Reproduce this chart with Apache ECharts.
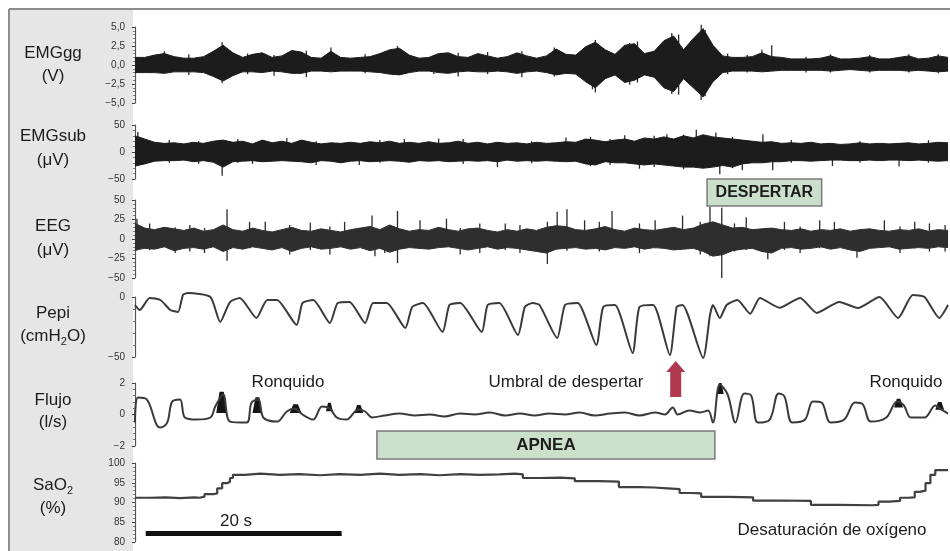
<!DOCTYPE html>
<html>
<head>
<meta charset="utf-8">
<script src="https://cdn.jsdelivr.net/npm/echarts@6/dist/echarts.min.js"></script>
<style>
  html, body { margin: 0; padding: 0; background: #fff; }
  #chart { width: 950px; height: 551px; }
</style>
</head>
<body>
<div id="chart"></div>
<script>
// envelopes sampled once per second (t = 0..83 s)
const emgggUp = [1.0, 1.0, 1.3, 1.5, 1.1, 0.9, 0.9, 1.1, 1.8, 2.6,
  1.6, 1.0, 1.4, 1.6, 1.0, 1.2, 1.9, 1.7, 1.0, 0.9,
  1.8, 1.0, 0.9, 1.0, 1.1, 1.5, 2.0, 2.2, 1.3, 0.9,
  1.0, 1.5, 1.6, 1.1, 1.0, 1.5, 1.2, 0.9, 1.1, 1.6,
  1.2, 0.9, 1.2, 2.1, 1.4, 1.3, 2.4, 3.0, 2.0, 1.4,
  2.6, 2.8, 1.5, 1.8, 3.2, 3.8, 2.0, 3.5, 4.8, 2.6,
  1.2, 1.0, 1.0, 1.1, 1.6, 1.1, 1.0, 0.8, 0.8, 0.8,
  0.9, 1.2, 0.8, 0.8, 0.9, 1.1, 0.8, 0.8, 1.0, 1.2,
  0.8, 0.9, 1.2, 1.0];
const emgggLo = [-1.0, -1.0, -1.0, -1.1, -0.9, -0.9, -0.9, -1.0, -1.5, -2.1,
  -1.4, -0.9, -0.9, -1.0, -0.8, -0.9, -1.1, -1.1, -0.8, -0.8,
  -0.9, -0.8, -0.8, -0.8, -0.9, -1.0, -1.2, -1.3, -1.0, -0.8,
  -0.8, -1.0, -1.1, -0.9, -0.8, -0.9, -0.9, -0.8, -0.9, -1.1,
  -0.9, -0.8, -1.0, -1.3, -1.1, -1.2, -2.2, -3.0, -1.8, -1.3,
  -2.3, -2.0, -1.3, -1.6, -3.0, -3.5, -1.8, -3.0, -4.2, -2.2,
  -1.0, -0.8, -0.8, -0.8, -0.9, -0.8, -0.7, -0.7, -0.7, -0.7,
  -0.7, -0.8, -0.7, -0.6, -0.7, -0.8, -0.7, -0.7, -0.7, -0.8,
  -0.7, -0.8, -0.9, -0.8];
// [time s, low, high]
const emgggSpikes = [[3.0, -0.6, 1.8], [5.5, -1.3, 1.4], [8.9, -2.4, 3.0], [11.5, -1.2, 1.5],
  [14.2, -1.4, 1.3], [17.5, -1.6, 1.9], [20.0, -0.5, 2.3], [23.5, -1.1, 1.4], [26.8, -1.2, 2.5],
  [30.5, -1.2, 1.3], [33.0, -1.5, 1.6], [36.0, -1.2, 1.7], [39.5, -1.6, 1.8], [42.8, -1.5, 2.3],
  [46.7, -3.2, 2.6], [47.0, -3.6, 3.3], [50.5, -2.6, 2.9], [51.3, -2.3, 3.1], [54.8, -3.8, 4.2],
  [55.5, -3.9, 4.0], [57.8, -4.6, 5.3], [58.2, -4.1, 4.6], [60.5, -1.2, 1.5], [62.5, -1.0, 1.3],
  [64.0, -0.4, 2.0], [65.0, -0.3, 2.6], [68.5, -1.0, 1.1], [71.0, -1.0, 1.4], [75.0, -1.0, 1.3],
  [79.0, -1.0, 1.4], [82.0, -1.1, 1.4]];

const emgsubUp = [30, 24, 18, 16, 17, 15, 18, 16, 20, 22,
  18, 20, 15, 22, 17, 20, 16, 22, 18, 15,
  17, 16, 18, 16, 19, 17, 20, 16, 18, 16,
  19, 16, 17, 20, 16, 18, 15, 18, 16, 17,
  15, 18, 16, 17, 19, 18, 24, 22, 19, 22,
  24, 20, 26, 24, 28, 24, 30, 26, 32, 28,
  26, 24, 22, 20, 18, 19, 16, 17, 16, 18,
  15, 16, 14, 15, 17, 15, 16, 15, 16, 17,
  15, 16, 18, 17];
const emgsubLo = [-26, -22, -17, -16, -16, -15, -18, -16, -19, -28,
  -18, -17, -16, -18, -17, -16, -17, -18, -20, -16,
  -17, -20, -17, -16, -18, -17, -16, -17, -19, -16,
  -17, -16, -18, -17, -16, -17, -16, -18, -15, -17,
  -16, -17, -16, -17, -18, -17, -22, -24, -18, -20,
  -20, -22, -24, -22, -24, -26, -28, -28, -30, -28,
  -25, -28, -22, -20, -20, -18, -18, -16, -16, -17,
  -16, -15, -15, -16, -16, -15, -16, -15, -15, -16,
  -15, -16, -17, -16];
const emgsubSpikes = [[0.3, -20, 37], [3.5, -20, 22], [6.5, -22, 20], [8.9, -44, 12], [10.5, -20, 24],
  [12.0, -22, 6], [15.5, -12, 26], [18.5, -24, 20], [22.9, -24, 5], [25.0, -20, 22], [27.5, -8, 24],
  [31.0, -5, 25], [33.5, -22, 24], [37.0, -28, 6], [40.5, -21, 20], [44.0, -6, 27], [46.5, -26, 28],
  [48.5, -24, 24], [50.0, -6, 31], [51.5, -31, 8], [53.0, -28, 30], [54.3, -10, 33], [56.0, -32, 32],
  [57.3, -12, 41], [59.3, -8, 36], [59.7, -41, 6], [61.0, -30, 28], [62.0, -34, 10], [64.1, -8, 33],
  [65.1, -34, 6], [67.0, -20, 22], [71.2, -26, 4], [74.0, -20, 20], [78.0, -27, 4], [81.0, -20, 22]];

const eegUp = [20, 14, 12, 15, 13, 11, 14, 10, 12, 18,
  12, 10, 14, 11, 9, 12, 15, 11, 10, 13,
  11, 9, 12, 14, 16, 12, 18, 13, 10, 12,
  11, 15, 12, 10, 13, 14, 11, 9, 12, 10,
  13, 11, 15, 17, 16, 12, 11, 13, 16, 12,
  10, 14, 12, 11, 13, 15, 12, 14, 19, 22,
  18, 14, 15, 12, 13, 14, 12, 11, 13, 10,
  12, 11, 13, 10, 12, 13, 11, 10, 12, 11,
  13, 10, 12, 11];
const eegLo = [-14, -12, -13, -10, -15, -12, -11, -13, -10, -16,
  -11, -13, -10, -12, -14, -11, -16, -12, -10, -13,
  -12, -10, -13, -11, -15, -12, -17, -13, -11, -12,
  -13, -11, -10, -12, -14, -12, -10, -13, -11, -12,
  -14, -16, -18, -13, -12, -11, -13, -12, -14, -11,
  -12, -10, -13, -11, -12, -14, -13, -12, -16, -22,
  -20, -15, -13, -12, -16, -18, -12, -11, -13, -12,
  -10, -13, -11, -14, -16, -12, -11, -10, -13, -12,
  -11, -12, -10, -11];
const eegSpikes = [[0.2, -15, 26], [1.5, -14, 20], [4.1, -18, 15], [5.6, -16, 18], [7.1, -18, 14],
  [9.4, -28, 38], [11.7, -12, 22], [13.3, -10, 22], [15.8, -20, 18], [17.9, -14, 21],
  [19.9, -20, 16], [21.4, -10, 22], [24.2, -8, 30], [24.5, -22, 5], [25.5, -18, 12],
  [26.8, -31, 36], [29.1, -12, 24], [31.8, -10, 26], [33.2, -20, 14], [35.2, -18, 20],
  [37.8, -14, 20], [39.3, -18, 18], [42.1, -32, 22], [43.1, -10, 35], [44.1, -15, 38],
  [45.9, -12, 24], [47.4, -16, 22], [48.7, -8, 36], [51.5, -18, 20], [53.1, -12, 24],
  [55.9, -12, 30], [57.7, -20, 22], [58.7, -22, 41], [59.9, -50, 40], [61.2, -16, 20],
  [62.4, -14, 28], [64.6, -26, 12], [66.3, -14, 22], [67.9, -18, 16], [69.9, -12, 24],
  [71.4, -12, 22], [73.7, -24, 10], [76.5, -10, 24], [78.1, -18, 16], [79.6, -12, 22],
  [81.1, -16, 20], [82.7, -16, 18]];

// [time s, value]
const pepi = [[0, -6.7], [0.5, -10.8], [1.5, -0.8], [2.6, -2.5], [3.6, -10.8], [4.4, -12.5], [4.9, 1.7],
  [5.4, 3.3], [7.7, 0], [8.7, -20.8], [9.7, -4.2], [10.7, -0.8], [12.4, -17.5], [13.5, -2.5],
  [14.5, -2.5], [16.5, -23.3], [17.1, -5], [18.2, -2.5], [19.9, -21.7], [20.7, -5], [21.9, -4.2],
  [23.5, -21.7], [24.3, -5], [25.7, -5], [27.6, -25.8], [28.3, -8.3], [29.4, -5], [31.4, -29.2],
  [32.1, -6.7], [33.2, -5], [35.4, -29.2], [36.0, -6.7], [37.2, -5], [39.1, -31.7], [39.8, -8.3],
  [40.6, -5], [41.3, -6.7], [43.1, -34.2], [43.9, -6.7], [45.2, -5], [47.1, -40], [47.8, -8.3],
  [49.0, -6.7], [50.8, -46.7], [51.5, -8.3], [52.9, -6.7], [54.6, -48.3], [55.3, -8.3], [55.9, -6.7],
  [58.0, -50.8], [58.7, -15], [59.0, -6.7], [59.7, -17.5], [60.4, -6.7], [61.5, -2.5], [62.8, -14],
  [63.8, -0.8], [65.8, -9], [67.9, -0.8], [69.6, -13.3], [71.9, -4.2], [73.8, -9.2], [76.0, 0],
  [77.9, -17.5], [79.4, 1.7], [80.6, 0], [82.1, -17.5], [83.0, -6.7]];

const flujo = [[0, -0.5], [0.3, 1.08], [1.2, 0.96], [2.2, -0.64], [2.6, -0.83], [3.3, -0.5], [3.8, 0.83],
  [4.6, 0.96], [5.1, -0.19], [6.3, -0.32], [7.7, -0.19], [8.2, 0.51], [9.0, 1.27], [9.7, -0.45],
  [11.4, -0.51], [11.9, 0.76], [12.6, 0.96], [13.1, -0.19], [14.5, -0.45], [15.5, 0.19], [16.3, 0.38],
  [17.1, 0], [18.2, -0.32], [19.1, 0.51], [19.9, 0.38], [20.6, -0.19], [21.6, -0.32], [22.8, 0.32],
  [23.5, 0.19], [24.2, -0.19], [25.5, -0.06], [27.0, 0.06], [28.6, -0.06], [30.1, 0], [31.6, -0.13],
  [33.2, 0.06], [34.7, 0], [36.2, 0.13], [37.8, -0.06], [39.3, 0.06], [40.8, -0.06], [42.3, 0.06],
  [43.9, 0], [45.4, 0.13], [46.9, -0.06], [48.5, 0.06], [50.0, 0.13], [51.5, -0.06], [53.1, 0.13],
  [54.1, 0], [54.9, 0.45], [55.4, 0], [56.6, 0.25], [57.7, 0.13], [58.5, 0.25], [59.0, -0.51],
  [59.7, 1.91], [60.5, 1.27], [61.3, -0.51], [62.2, 1.34], [62.9, 1.21], [63.6, -0.51], [64.8, -0.32],
  [65.7, 1.34], [66.3, 1.15], [67.1, -0.51], [68.4, -0.32], [69.2, 0.83], [70.1, 0.76], [71.0, -0.51],
  [72.4, -0.32], [73.5, 0.76], [74.3, 0.64], [75.1, -0.45], [76.7, -0.19], [77.8, 0.83], [78.5, 0.57],
  [79.2, -0.19], [80.6, -0.19], [81.7, 0.57], [82.3, 0.32], [83.0, 0.06]];
// snoring bursts: [start s, end s, low, high]
const ronquidos = [[8.3, 9.4, 0.1, 1.45], [12.0, 13.0, 0.1, 1.1], [15.8, 17.0, 0.1, 0.65],
  [19.5, 20.2, 0.2, 0.75], [22.4, 23.3, 0.1, 0.6], [59.4, 60.1, 1.3, 2.0],
  [77.5, 78.4, 0.45, 1.0], [81.7, 82.6, 0.3, 0.8]];

const sao2 = [[0, 91.2], [1.5, 91.3], [3.1, 91.1], [4.6, 91.3], [6.1, 91.2], [6.6, 91.5], [7.1, 92.1],
  [8.0, 92.3], [8.4, 93.6], [8.9, 94.9], [9.4, 95.2], [9.7, 96.2], [10.0, 97.0], [11.2, 97.3],
  [12.8, 97.0], [14.8, 97.2], [16.8, 96.9], [18.9, 97.2], [20.9, 97.0], [23.0, 97.3], [25.0, 97.0],
  [27.0, 97.2], [29.1, 96.9], [31.1, 97.2], [33.2, 97.0], [35.2, 97.1], [37.2, 97.3], [38.8, 97.1],
  [39.6, 96.2], [41.3, 96.3], [43.4, 96.1], [44.9, 95.4], [47.4, 95.3], [49.4, 93.9], [51.5, 93.8],
  [53.0, 93.6], [54.4, 93.4], [55.6, 92.4], [56.8, 92.3], [57.8, 91.4], [60.7, 91.3], [63.1, 90.5],
  [65.8, 90.4], [69.0, 89.4], [71.9, 89.3], [75.3, 89.4], [75.9, 90.2], [77.0, 90.4], [78.1, 91.2],
  [78.9, 91.3], [79.6, 92.7], [80.1, 93.0], [80.7, 94.9], [81.2, 97.0], [81.7, 98.2], [83.0, 98.3]];

// annotation spans in seconds
const apnea = [24.7, 59.2];
const despertar = [58.4, 70.1];
const escala = [1.1, 21.1];
const umbralT = 55.2;

const seconds = emgggUp.map((_, i) => i);
const font = "'Liberation Sans', Arial, Helvetica, sans-serif";
const ink = '#1c1c1c';

const grids = [
  { top: 27, height: 76 },
  { top: 125, height: 54 },
  { top: 200, height: 78 },
  { top: 297, height: 60 },
  { top: 383, height: 63 },
  { top: 463, height: 79 }
];
const yRanges = [
  { min: -5, max: 5, interval: 2.5 },
  { min: -50, max: 50, interval: 50 },
  { min: -50, max: 50, interval: 25 },
  { min: -50, max: 0, interval: 50 },
  { min: -2, max: 2, interval: 2 },
  { min: 80, max: 100, interval: 5 }
];

function fmt(v, i) {
  let s = i === 0 ? v.toFixed(1).replace('.', ',') : String(v);
  return s.replace('-', '\u2212');
}

function spikeItem(params, api) {
  const a = api.coord([api.value(0), api.value(1)]);
  const b = api.coord([api.value(0), api.value(2)]);
  return { type: 'line', shape: { x1: a[0], y1: a[1], x2: b[0], y2: b[1] },
    style: { stroke: '#2a2a2a', lineWidth: 1.3 } };
}
function blobItem(params, api) {
  const t0 = api.value(0), t1 = api.value(1), lo = api.value(2), hi = api.value(3);
  const w = (t1 - t0) * 0.3;
  const pts = [[t0, lo], [t0 + w, hi], [t1 - w, hi], [t1, lo]].map(p => api.coord(p));
  return { type: 'polygon', shape: { points: pts }, style: { fill: '#151515' } };
}

function band(up, lo, idx, color) {
  return [up, lo].map(arr => ({
    type: 'line', xAxisIndex: idx, yAxisIndex: idx, symbol: 'none', silent: true,
    data: seconds.map((t, i) => [t, arr[i]]),
    lineStyle: { color: color, width: 1 },
    areaStyle: { color: color, opacity: 1 }
  }));
}
function spikes(list, idx) {
  return { type: 'custom', xAxisIndex: idx, yAxisIndex: idx, renderItem: spikeItem,
    encode: { x: 0, y: [1, 2] }, data: list, silent: true };
}

const option = {
  animation: false,
  grid: grids.map(g => ({ left: 133, right: 0, top: g.top, height: g.height })),
  xAxis: grids.map((g, i) => ({ type: 'value', gridIndex: i, min: -0.2, max: 83.2, show: false })),
  yAxis: yRanges.map((r, i) => ({
    type: 'value', gridIndex: i, min: r.min, max: r.max, interval: r.interval,
    axisLine: { show: true, lineStyle: { color: '#555', width: 1.2 } },
    axisTick: { show: true, length: 3, lineStyle: { color: '#444' } },
    minorTick: { show: true, length: 2, splitNumber: 5, lineStyle: { color: '#777' } },
    splitLine: { show: false },
    axisLabel: { fontSize: 10, color: '#333', margin: 8, fontFamily: font,
      formatter: v => fmt(v, i) }
  })),
  series: [
    ...band(emgggUp, emgggLo, 0, ink),
    spikes(emgggSpikes, 0),
    ...band(emgsubUp, emgsubLo, 1, ink),
    spikes(emgsubSpikes, 1),
    ...band(eegUp, eegLo, 2, '#2e2e2e'),
    spikes(eegSpikes, 2),
    { type: 'line', xAxisIndex: 3, yAxisIndex: 3, data: pepi, symbol: 'none', smooth: 0.2,
      clip: false, lineStyle: { color: '#3a3a3a', width: 2 } },
    { type: 'line', xAxisIndex: 4, yAxisIndex: 4, data: flujo, symbol: 'none', smooth: 0.35,
      lineStyle: { color: '#3a3a3a', width: 2 } },
    { type: 'custom', xAxisIndex: 4, yAxisIndex: 4, renderItem: blobItem,
      encode: { x: [0, 1], y: [2, 3] }, data: ronquidos, silent: true },
    { type: 'line', xAxisIndex: 5, yAxisIndex: 5, data: sao2, symbol: 'none', step: 'end',
      lineStyle: { color: '#404040', width: 2.2 } }
  ]
};

const chart = echarts.init(document.getElementById('chart'));
chart.setOption(option);

const xp = t => chart.convertToPixel({ xAxisIndex: 5 }, t);
const txt = (text, x, y, extra) => ({
  type: 'text', z: 10,
  style: Object.assign({ text, x, y, align: 'center', verticalAlign: 'middle',
    font: '17px ' + font, fill: ink }, extra || {})
});
const sub = {
  n: { fontSize: 17, lineHeight: 22, fontFamily: font, fill: ink },
  s: { fontSize: 11, lineHeight: 12, fontFamily: font, fill: ink, verticalAlign: 'bottom' }
};
const ax = xp(umbralT);

chart.setOption({
  graphic: [
    { type: 'rect', z: -10, shape: { x: 9, y: 9, width: 124, height: 542 }, style: { fill: '#e6e6e6' } },
    { type: 'line', shape: { x1: 9, y1: 9, x2: 950, y2: 9 }, style: { stroke: '#8c8c8c', lineWidth: 2 } },
    { type: 'line', shape: { x1: 9, y1: 9, x2: 9, y2: 551 }, style: { stroke: '#8c8c8c', lineWidth: 2 } },
    txt('EMGgg', 53, 53), txt('(V)', 53, 76),
    txt('EMGsub', 53, 136), txt('(\u03bcV)', 53, 160),
    txt('EEG', 53, 226), txt('(\u03bcV)', 53, 250),
    txt('Pepi', 53, 313),
    txt('', 53, 336, { text: '{n|(cmH}{s|2}{n|O)}', rich: sub }),
    txt('Flujo', 53, 400), txt('(l/s)', 53, 422),
    txt('', 53, 485, { text: '{n|SaO}{s|2}', rich: sub }),
    txt('(%)', 53, 508),
    txt('Ronquido', 288, 382), txt('Umbral de despertar', 566, 382), txt('Ronquido', 906, 382),
    txt('20 s', 236, 521),
    txt('Desaturaci\u00f3n de ox\u00edgeno', 832, 530),
    { type: 'rect', shape: { x: xp(escala[0]), y: 531, width: xp(escala[1]) - xp(escala[0]), height: 5 },
      style: { fill: '#111' } },
    { type: 'rect', z: 5, shape: { x: xp(despertar[0]), y: 179, width: xp(despertar[1]) - xp(despertar[0]), height: 27 },
      style: { fill: '#cbe0cb', stroke: '#7a7a7a', lineWidth: 1.5 } },
    txt('DESPERTAR', (xp(despertar[0]) + xp(despertar[1])) / 2, 193, { font: 'bold 16px ' + font }),
    { type: 'rect', z: 5, shape: { x: xp(apnea[0]), y: 431, width: xp(apnea[1]) - xp(apnea[0]), height: 28 },
      style: { fill: '#cbe0cb', stroke: '#7a7a7a', lineWidth: 1.5 } },
    txt('APNEA', (xp(apnea[0]) + xp(apnea[1])) / 2, 445, { font: 'bold 17px ' + font }),
    { type: 'polygon', z: 5, shape: { points: [[ax - 9.5, 372], [ax, 361], [ax + 9.5, 372], [ax + 5.5, 372],
      [ax + 5.5, 397], [ax - 5.5, 397], [ax - 5.5, 372]] }, style: { fill: '#b0394f' } }
  ]
});
</script>
</body>
</html>
